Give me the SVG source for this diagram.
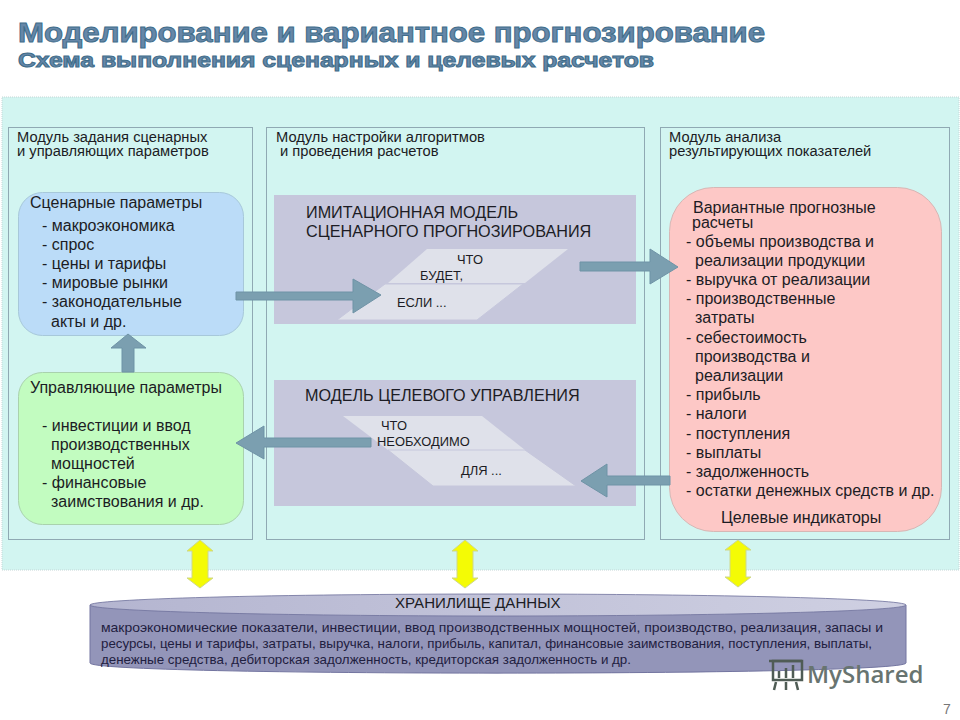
<svg xmlns="http://www.w3.org/2000/svg" width="960" height="720" viewBox="0 0 960 720">
<style>
text{font-family:"Liberation Sans",Arial,sans-serif;fill:#1c1c24}
.m{font-size:14.7px}
.b{font-size:16px}
.h{font-size:16.2px}
.s{font-size:12.9px}
.d{font-size:12.2px;fill:#1f2040}
.mod{fill:#d2f5f1;stroke:#8fa9b3;stroke-width:1}
.ar{fill:#7b9fb0;stroke:#6f93a6;stroke-width:1}
.y{fill:#f4fb05;stroke:#cfd88a;stroke-width:1}
.t{font-weight:bold;fill:#6687a8;stroke:#3f6d8a;stroke-width:1}
</style>
<defs>
<linearGradient id="cap" x1="0" x2="1" y1="0" y2="0"><stop offset="0" stop-color="#b4b5d0"/><stop offset="1" stop-color="#cfd0e2"/></linearGradient>
</defs>
<rect width="960" height="720" fill="#fff"/>
<g id="title">
<text class="t" x="18" y="42" font-size="28" textLength="747" lengthAdjust="spacingAndGlyphs">Моделирование и вариантное прогнозирование</text>
<text class="t" x="18" y="67" font-size="20" textLength="636" lengthAdjust="spacingAndGlyphs">Схема выполнения сценарных и целевых расчетов</text>
</g>
<rect id="panel" x="2" y="97" width="957" height="473" fill="#d2f5f1" stroke="#c4d6d6" stroke-dasharray="1 1"/>
<g id="module-1"><rect class="mod" x="8.500" y="127.500" width="244" height="412"/>
<text class="m" x="17" y="142">Модуль задания сценарных</text><text class="m" x="17" y="156">и управляющих параметров</text></g>
<g id="module-2"><rect class="mod" x="266.500" y="127.500" width="378" height="412"/>
<text class="m" x="276" y="142">Модуль настройки алгоритмов</text><text class="m" x="280" y="156">и проведения расчетов</text></g>
<g id="module-3"><rect class="mod" x="660.500" y="127.500" width="289" height="412"/>
<text class="m" x="669" y="142">Модуль анализа</text><text class="m" x="669" y="156">результирующих показателей</text></g>

<g id="scenario">
<rect x="18.500" y="192.500" width="225" height="143" rx="24" fill="#bbdcf8" stroke="#a7c8da"/>
<text class="b" x="30" y="208">Сценарные параметры</text>
<text class="b" x="42" y="231">- макроэкономика</text>
<text class="b" x="42" y="250">- спрос</text>
<text class="b" x="42" y="269">- цены и тарифы</text>
<text class="b" x="42" y="288">- мировые рынки</text>
<text class="b" x="42" y="307">- законодательные</text>
<text class="b" x="51" y="327">акты и др.</text>
</g>
<g id="control">
<rect x="18.500" y="372.500" width="225" height="152" rx="24" fill="#c2fcc0" stroke="#a9d2ad"/>
<text class="b" x="30" y="393">Управляющие параметры</text>
<text class="b" x="42" y="431">- инвестиции и ввод</text>
<text class="b" x="51" y="450">производственных</text>
<text class="b" x="51" y="469">мощностей</text>
<text class="b" x="42" y="488">- финансовые</text>
<text class="b" x="51" y="507">заимствования и др.</text>
</g>
<g id="sim-model">
<rect x="274" y="195" width="362" height="129" fill="#c6c7dc"/>
<text class="h" x="306" y="218">ИМИТАЦИОННАЯ МОДЕЛЬ</text>
<text class="h" x="306" y="237">СЦЕНАРНОГО ПРОГНОЗИРОВАНИЯ</text>
<polygon points="427,249 568,249 525,283 388,283" fill="#dfe1ea"/>
<polygon points="385,284 523,284 477,320 337,320" fill="#dfe1ea" stroke="#c6c7dc"/>
<text class="s" x="457" y="264">ЧТО</text>
<text class="s" x="420" y="280">БУДЕТ,</text>
<text class="s" x="397" y="307">ЕСЛИ ...</text>
</g>
<g id="goal-model">
<rect x="274" y="380" width="362" height="126" fill="#c6c7dc"/>
<text class="h" x="305" y="401">МОДЕЛЬ ЦЕЛЕВОГО УПРАВЛЕНИЯ</text>
<polygon points="343,416 482,416 525,450 388,450" fill="#dfe1ea"/>
<polygon points="388,450 525,450 576,486 433,486" fill="#dfe1ea" stroke="#c6c7dc"/>
<text class="s" x="381" y="430">ЧТО</text>
<text class="s" x="377" y="446">НЕОБХОДИМО</text>
<text class="s" x="461" y="475">ДЛЯ ...</text>
</g>
<g id="results">
<rect x="669.500" y="187.500" width="272" height="344" rx="44" fill="#fdc8c6" stroke="#d6b7b5"/>
<text class="b" x="693" y="213">Вариантные прогнозные</text>
<text class="b" x="692" y="228">расчеты</text>
<text class="b" x="686" y="247">- объемы производства и</text>
<text class="b" x="695" y="266">реализации продукции</text>
<text class="b" x="686" y="285">- выручка от реализации</text>
<text class="b" x="686" y="304">- производственные</text>
<text class="b" x="695" y="323">затраты</text>
<text class="b" x="686" y="343">- себестоимость</text>
<text class="b" x="695" y="362">производства и</text>
<text class="b" x="695" y="381">реализации</text>
<text class="b" x="686" y="400">- прибыль</text>
<text class="b" x="686" y="419">- налоги</text>
<text class="b" x="686" y="439">- поступления</text>
<text class="b" x="686" y="458">- выплаты</text>
<text class="b" x="686" y="477">- задолженность</text>
<text class="b" x="686" y="496">- остатки денежных средств и др.</text>
<text class="b" x="721" y="523">Целевые индикаторы</text>
</g>
<g id="storage">
<path d="M90 605V663C90 676.500 906 676.500 906 663V605Z" fill="#9395b9" stroke="#7375a0"/>
<ellipse cx="498" cy="605" rx="408" ry="11" fill="url(#cap)" stroke="#6f719c" stroke-width=".8"/>
<text class="b" x="395" y="608" style="font-size:15.1px">ХРАНИЛИЩЕ ДАННЫХ</text>
<text class="d" x="101" y="632" textLength="782" lengthAdjust="spacingAndGlyphs">макроэкономические показатели, инвестиции,  ввод производственных мощностей, производство, реализация, запасы и</text>
<text class="d" x="101" y="648" textLength="771" lengthAdjust="spacingAndGlyphs">ресурсы, цены и тарифы, затраты, выручка, налоги, прибыль, капитал, финансовые заимствования, поступления, выплаты,</text>
<text class="d" x="101" y="664" textLength="530" lengthAdjust="spacingAndGlyphs">денежные средства, дебиторская задолженность, кредиторская задолженность и др.</text>
</g>
<g id="connectors">
<polygon class="ar" points="236,292 353,292 353,279 381,295 353,313 353,300 236,300"/>
<polygon class="ar" points="580,262 650,262 650,249 678,267 650,284 650,271 580,271"/>
<polygon class="ar" points="371,438 264,438 264,426 236,443 264,459 264,447 371,447"/>
<polygon class="ar" points="670,476 607,476 607,464 581,481 607,497 607,485 670,485"/>
<polygon class="ar" points="122,372 122,348 111,348 128,334 146,348 134,348 134,372"/>
<polygon class="y" points="200,540 213,551 208,551 208,578 213,578 200,588 187,578 192,578 192,551 187,551"/>
<polygon class="y" points="465,540 478,551 473,551 473,578 478,578 465,588 452,578 457,578 457,551 452,551"/>
<polygon class="y" points="738,540 751,550 746,550 746,577 751,577 738,587 725,577 730,577 730,550 725,550"/>
</g>
<g id="watermark">
<rect x="773" y="661" width="29" height="19" fill="none" stroke="#4f5c55" stroke-width="2.500"/>
<path d="M769 661H802M779 671v7M786 668v10M793 665v13M776 682l-2 8M786 682v8M796 682l2 8" fill="none" stroke="#4f5c55" stroke-width="2.500"/>
<text x="807" y="683" font-size="24" font-weight="600" style="fill:#687470;font-family:'Open Sans',sans-serif">MyShared</text>
</g>
<text x="943" y="714" font-size="14" style="fill:#777">7</text>
</svg>
